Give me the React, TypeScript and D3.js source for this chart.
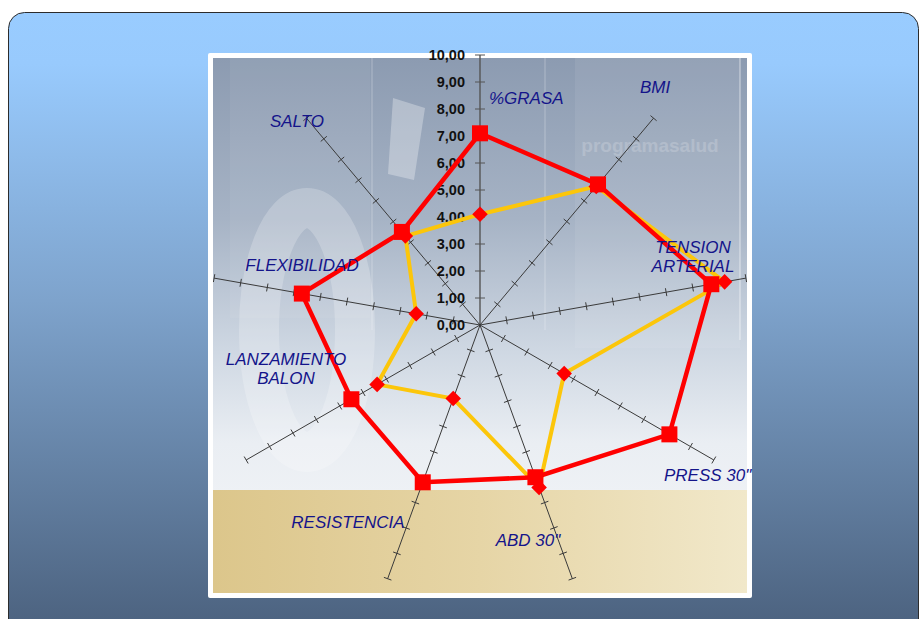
import React from "react";
import * as d3 from "d3";

// ---- data ----
const categories = [
  "%GRASA",
  "BMI",
  "TENSION ARTERIAL",
  "PRESS 30\"",
  "ABD 30\"",
  "RESISTENCIA",
  "LANZAMIENTO BALON",
  "FLEXIBILIDAD",
  "SALTO",
];
const seriesRed = [7.1, 6.8, 8.7, 8.1, 6.0, 6.2, 5.5, 6.7, 4.5];
const seriesYellow = [4.1, 6.7, 9.2, 3.6, 6.4, 2.9, 4.4, 2.4, 4.3];
const tickValues = [0, 1, 2, 3, 4, 5, 6, 7, 8, 9, 10];

// ---- layout (label placement, not data) ----
const labelLayout = [
  { lines: ["%GRASA"], x: 489, y: 104, anchor: "start" },
  { lines: ["BMI"], x: 655, y: 93, anchor: "middle" },
  { lines: ["TENSION", "ARTERIAL"], x: 693, y: 253, anchor: "middle" },
  { lines: ["PRESS 30\""], x: 664, y: 481, anchor: "start" },
  { lines: ["ABD 30\""], x: 528, y: 546, anchor: "middle" },
  { lines: ["RESISTENCIA"], x: 348, y: 528, anchor: "middle" },
  { lines: ["LANZAMIENTO", "BALON"], x: 286, y: 365, anchor: "middle" },
  { lines: ["FLEXIBILIDAD"], x: 302, y: 271, anchor: "middle" },
  { lines: ["SALTO"], x: 297, y: 127, anchor: "middle" },
];

const W = 920;
const H = 619;
const cx = 480;
const cy = 325;

const r = d3.scaleLinear().domain([0, 10]).range([0, 270]);
const angle = d3
  .scaleLinear()
  .domain([0, categories.length])
  .range([0, 2 * Math.PI]);

const pt = (i: number, v: number): [number, number] => {
  const a = angle(i);
  return [cx + r(v) * Math.sin(a), cy - r(v) * Math.cos(a)];
};

const locale = d3.formatLocale({
  decimal: ",",
  thousands: ".",
  grouping: [3],
  currency: ["", "€"],
});
const fmt = locale.format(".2f");

const lineGen = d3
  .line<number>()
  .x((d, i) => pt(i, d)[0])
  .y((d, i) => pt(i, d)[1])
  .curve(d3.curveLinearClosed);

export default function App() {
  const font = "'Liberation Sans', Arial, sans-serif";
  return (
    <div style={{ position: "absolute", left: 0, top: 0, width: W, height: H }}>
      <svg width={W} height={H} style={{ display: "block" }}>
        <defs>
          <linearGradient id="outerGrad" x1="0" y1="0" x2="0" y2="1">
            <stop offset="0" stopColor="#99ccff" />
            <stop offset="0.08" stopColor="#98cafd" />
            <stop offset="0.45" stopColor="#7ea3cc" />
            <stop offset="1" stopColor="#485d79" />
          </linearGradient>
          <linearGradient id="photoGrad" x1="0" y1="0" x2="0" y2="1">
            <stop offset="0" stopColor="#8c9bb1" />
            <stop offset="0.3" stopColor="#a6b3c5" />
            <stop offset="0.55" stopColor="#cfd8e3" />
            <stop offset="0.72" stopColor="#eaeef3" />
            <stop offset="1" stopColor="#f6f7f9" />
          </linearGradient>
          <linearGradient id="sandGrad" x1="0" y1="0" x2="1" y2="0">
            <stop offset="0" stopColor="#dcc68b" />
            <stop offset="0.5" stopColor="#e6d5a6" />
            <stop offset="1" stopColor="#f1e8ca" />
          </linearGradient>
          <clipPath id="photoClip">
            <rect x={213} y={58} width={534} height={535} />
          </clipPath>
        </defs>

        {/* outer rounded panel */}
        <rect
          x={8.5}
          y={12.5}
          width={910}
          height={640}
          rx={16}
          fill="url(#outerGrad)"
          stroke="#2c2c2c"
          strokeWidth={1}
        />

        {/* white frame */}
        <rect x={208} y={53} width={544} height={545} rx={2} fill="#ffffff" />

        {/* photo-like background */}
        <g clipPath="url(#photoClip)">
          <rect x={213} y={58} width={534} height={535} fill="url(#photoGrad)" />
          <rect x={230} y={58} width={140} height={260} fill="#ffffff" opacity={0.05} />
          <rect x={575} y={58} width={165} height={290} fill="#ffffff" opacity={0.07} />
          <line x1={372} y1={58} x2={372} y2={330} stroke="#ffffff" strokeOpacity={0.15} strokeWidth={2} />
          <line x1={545} y1={58} x2={545} y2={330} stroke="#ffffff" strokeOpacity={0.15} strokeWidth={2} />
          <line x1={740} y1={58} x2={740} y2={340} stroke="#ffffff" strokeOpacity={0.3} strokeWidth={2} />
          <ellipse cx={307} cy={330} rx={48} ry={122} fill="none" stroke="#ffffff" strokeOpacity={0.22} strokeWidth={40} />
          <polygon points="393,98 425,108 414,180 388,174" fill="#ffffff" opacity={0.3} />
          <text
            x={650}
            y={152}
            textAnchor="middle"
            fontFamily={font}
            fontSize={19}
            fontWeight="bold"
            fill="#ffffff"
            opacity={0.18}
          >
            programasalud
          </text>
          <rect x={213} y={490} width={534} height={103} fill="url(#sandGrad)" />
        </g>

        {/* axes */}
        {categories.map((c, i) => {
          const [x2, y2] = pt(i, 10);
          const a = angle(i);
          const px = Math.cos(a);
          const py = Math.sin(a);
          const main = i === 0;
          return (
            <g key={"ax" + i}>
              <line
                x1={cx}
                y1={cy}
                x2={x2}
                y2={y2}
                stroke={main ? "#555555" : "#3a3a3a"}
                strokeWidth={main ? 1.4 : 1}
              />
              {tickValues.slice(1).map((t) => {
                const [tx, ty] = pt(i, t);
                const h = main ? 5 : 4;
                return (
                  <line
                    key={t}
                    x1={tx - px * h}
                    y1={ty - py * h}
                    x2={tx + px * h}
                    y2={ty + py * h}
                    stroke={main ? "#555555" : "#3a3a3a"}
                    strokeWidth={1}
                  />
                );
              })}
            </g>
          );
        })}

        {/* value labels on vertical axis */}
        {tickValues.map((t) => (
          <text
            key={"tl" + t}
            x={cx - 15}
            y={cy - r(t) + 5}
            textAnchor="end"
            fontFamily={font}
            fontWeight="bold"
            fontSize={14.5}
            fill="#111111"
          >
            {fmt(t)}
          </text>
        ))}

        {/* yellow series */}
        <path
          d={lineGen(seriesYellow) || ""}
          fill="none"
          stroke="#fcc60a"
          strokeWidth={4}
          strokeLinejoin="miter"
        />
        {seriesYellow.map((v, i) => {
          const [x, y] = pt(i, v);
          return (
            <rect
              key={"yd" + i}
              x={x - 5.5}
              y={y - 5.5}
              width={11}
              height={11}
              fill="#ff0000"
              transform={`rotate(45 ${x} ${y})`}
            />
          );
        })}

        {/* red series */}
        <path
          d={lineGen(seriesRed) || ""}
          fill="none"
          stroke="#ff0000"
          strokeWidth={4.5}
          strokeLinejoin="miter"
        />
        {seriesRed.map((v, i) => {
          const [x, y] = pt(i, v);
          return (
            <rect key={"rs" + i} x={x - 8} y={y - 8} width={16} height={16} fill="#ff0000" />
          );
        })}

        {/* category labels */}
        {labelLayout.map((l, i) => (
          <text
            key={"cl" + i}
            x={l.x}
            y={l.y}
            textAnchor={l.anchor as any}
            fontFamily={font}
            fontStyle="italic"
            fontSize={17}
            fill="#14148a"
          >
            {l.lines.map((ln, j) => (
              <tspan key={j} x={l.x} dy={j === 0 ? 0 : 19}>
                {ln}
              </tspan>
            ))}
          </text>
        ))}
      </svg>
    </div>
  );
}
